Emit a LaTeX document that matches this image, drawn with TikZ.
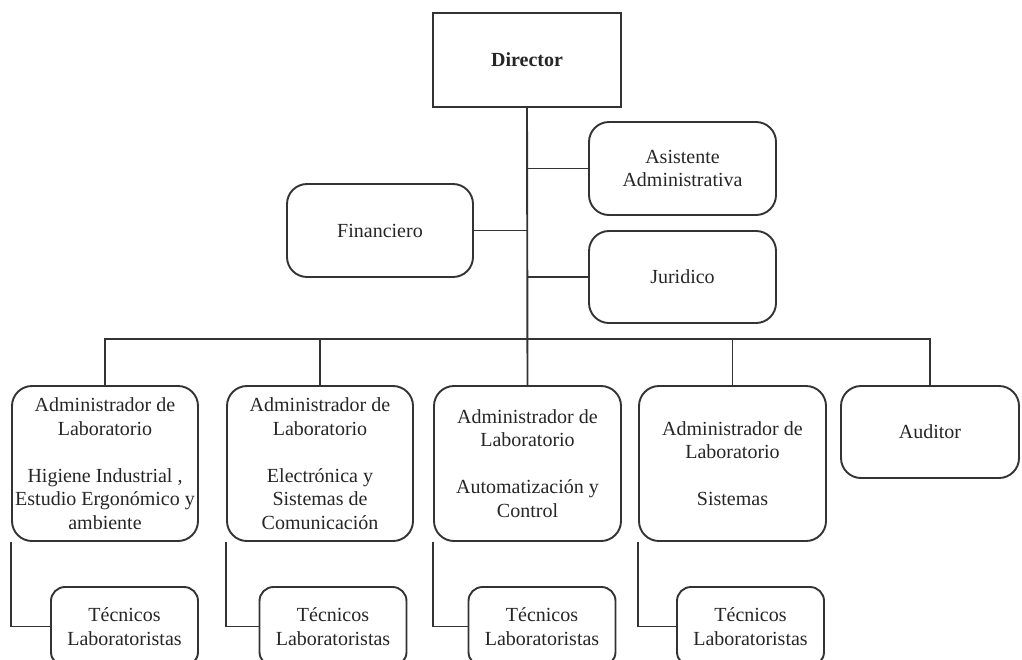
\documentclass[tikz,border=0pt]{standalone}
\usepackage{fontspec}
\setmainfont{Liberation Serif}
\begin{document}
\begin{tikzpicture}[x=1pt,y=-1pt,
  every node/.style={font=\fontsize{20}{23.5}\selectfont, text=black!85, align=center, inner sep=0pt},
  line/.style={draw=black!80, line width=1.9pt},
  sqbox/.style={line, rectangle},
  rbox/.style={line, rectangle, rounded corners=20pt},
  tbox/.style={line, rectangle, rounded corners=14pt, minimum width=147pt, minimum height=79pt},
  link/.style={draw=black!80, line width=1.9pt}]
\useasboundingbox (0,0) rectangle (1022,659);
\clip (0,0) rectangle (1022,659);
\fill[white] (0,0) rectangle (1022,659);

% top level
\node[sqbox, minimum width=188pt, minimum height=94pt] (dir) at (527,60) {\textbf{Director}};
\node[rbox, minimum width=187pt, minimum height=93pt] (asis) at (682.5,168.5) {Asistente\\Administrativa};
\node[rbox, minimum width=186pt, minimum height=93pt] (fin) at (380,230.5) {Financiero};
\node[rbox, minimum width=187pt, minimum height=92pt] (jur) at (682.5,277) {Juridico};

% second level
\node[rbox, minimum width=186pt, minimum height=155pt] (b1) at (105,463.5)
  {Administrador de\\Laboratorio\\[23.5pt]Higiene Industrial ,\\Estudio Ergonómico y\\ambiente};
\node[rbox, minimum width=186pt, minimum height=155pt] (b2) at (320,463.5)
  {Administrador de\\Laboratorio\\[23.5pt]Electrónica y\\Sistemas de\\Comunicación};
\node[rbox, minimum width=187pt, minimum height=155pt] (b3) at (527.5,463.5)
  {Administrador de\\Laboratorio\\[23.5pt]Automatización y\\Control};
\node[rbox, minimum width=187pt, minimum height=155pt] (b4) at (732.5,463.5)
  {Administrador de\\Laboratorio\\[23.5pt]Sistemas};
\node[rbox, minimum width=178pt, minimum height=92pt] (aud) at (930,432) {Auditor};

% third level
\node[tbox] (t1) at (124.5,626.5) {Técnicos\\Laboratoristas};
\node[tbox] (t2) at (333,626.5) {Técnicos\\Laboratoristas};
\node[tbox] (t3) at (542,626.5) {Técnicos\\Laboratoristas};
\node[tbox] (t4) at (750.5,626.5) {Técnicos\\Laboratoristas};

% connectors
\coordinate (bus) at (527,339);
\draw[link] (dir.south) -- (b3.north);
\draw[link] (asis.west) -- (asis.west -| dir.south);
\draw[link] (fin.east) -- (fin.east -| dir.south);
\draw[link] (jur.west) -- (jur.west -| dir.south);
\draw[link] (b1.north) |- (bus) -| (aud.north);
\draw[link] (b2.north) -- (b2.north |- bus);
\draw[link] (b4.north) -- (b4.north |- bus);
\draw[link] (b1.south west) |- (t1.west);
\draw[link] (b2.south west) |- (t2.west);
\draw[link] (b3.south west) |- (t3.west);
\draw[link] (b4.south west) |- (t4.west);
\end{tikzpicture}
\end{document}
